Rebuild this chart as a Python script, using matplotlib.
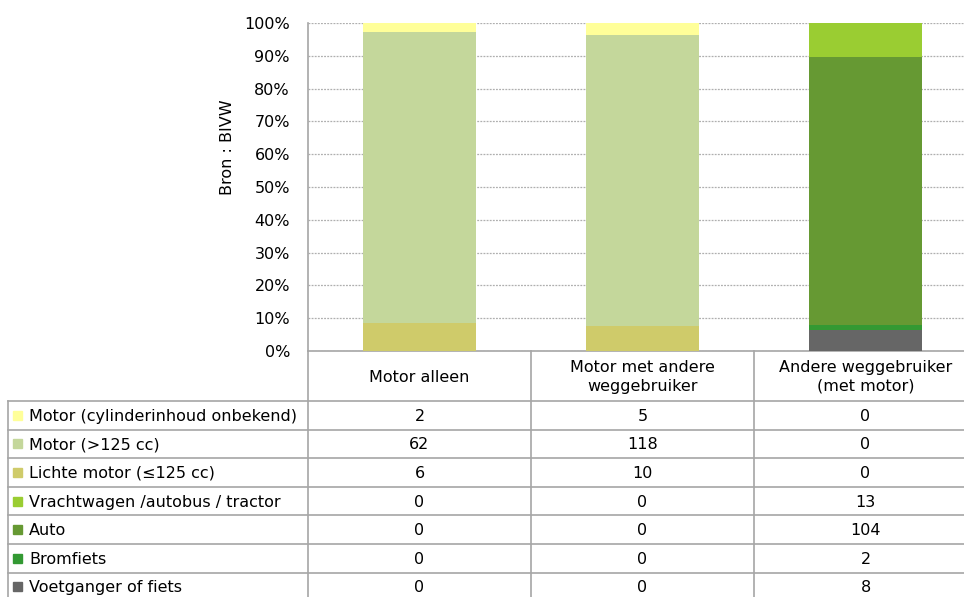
import matplotlib.pyplot as plt
from matplotlib.patches import Rectangle
import numpy as np

# Ongevallen per type, aantallen per kolom
categories = ['Motor alleen', 'Motor met andere\nweggebruiker', 'Andere weggebruiker\n(met motor)']
series_names = ['Motor (cylinderinhoud onbekend)', 'Motor (>125 cc)', 'Lichte motor (≤125 cc)',
                'Vrachtwagen /autobus / tractor', 'Auto', 'Bromfiets', 'Voetganger of fiets']
onbekend = [2, 5, 0]
motor_groot = [62, 118, 0]
lichte_motor = [6, 10, 0]
vrachtwagen = [0, 0, 13]
auto = [0, 0, 104]
bromfiets = [0, 0, 2]
voetganger = [0, 0, 8]
yticks = [0, 10, 20, 30, 40, 50, 60, 70, 80, 90, 100]

series = [onbekend, motor_groot, lichte_motor, vrachtwagen, auto, bromfiets, voetganger]
colors = ['#FFFF99', '#C4D79B', '#CFCB6A', '#9ACD32', '#669933', '#339933', '#666666']

plt.rcParams['font.family'] = ['DejaVu Sans']
fs = 11.5
line_col = '#A6A6A6'

W, H = 964, 597
fig = plt.figure(figsize=(W / 100, H / 100), dpi=100)

# pixel layout
x0, x_end = 308, 977
y_top, y_bot = 23, 351
col_w = (x_end - x0) / 3
ax = fig.add_axes([x0 / W, 1 - y_bot / H, (x_end - x0) / W, (y_bot - y_top) / H])

data = np.array(series, dtype=float)
totals = data.sum(axis=0)
pct = data / totals * 100

# stacked from bottom (last row in table) upward
x = np.arange(len(categories))
bottom = np.zeros(len(categories))
for i in range(len(series) - 1, -1, -1):
    ax.bar(x, pct[i], width=0.51, bottom=bottom, color=colors[i], zorder=3)
    bottom += pct[i]

ax.set_xlim(-0.5, 2.5)
ax.set_ylim(0, 100)
ax.set_yticks(yticks)
ax.set_yticklabels([f'{t}%' for t in yticks], fontsize=fs)
ax.tick_params(axis='y', length=0, pad=13)
ax.set_xticks([])
ax.yaxis.grid(True, linestyle=(0, (1.5, 1)), color='#AFAFAF', linewidth=0.9, zorder=0)
for s in ['top', 'right']:
    ax.spines[s].set_visible(False)
ax.spines['left'].set_color(line_col)
ax.spines['bottom'].set_color(line_col)
ax.spines['left'].set_linewidth(1.2)
ax.spines['bottom'].set_linewidth(1.2)

fig.text(228 / W, 1 - 147 / H, 'Bron : BIVW', rotation=90, ha='center', va='center', fontsize=fs)

# data table underneath
tab = fig.add_axes([0, 0, 1, 1], zorder=5)
tab.set_xlim(0, W)
tab.set_ylim(H, 0)
tab.axis('off')

row_top = 401
row_h = 28.6
n_rows = len(series)
table_bot = row_top + row_h * n_rows

for k in range(4):
    xv = x0 + k * col_w
    tab.plot([xv, xv], [y_bot, table_bot], color=line_col, lw=1.2, clip_on=False)
tab.plot([8, 8], [row_top, table_bot], color=line_col, lw=1.2)
for r in range(n_rows + 1):
    yy = row_top + r * row_h
    tab.plot([8, x_end], [yy, yy], color=line_col, lw=1.2)

for c, name in enumerate(categories):
    tab.text(x0 + (c + 0.5) * col_w, (y_bot + row_top) / 2 + 1, name, ha='center', va='center',
             fontsize=fs, linespacing=1.3)

for r, name in enumerate(series_names):
    yc = row_top + (r + 0.5) * row_h
    tab.add_patch(Rectangle((13, yc - 4.5), 9, 9, color=colors[r]))
    tab.text(29, yc + 1, name, ha='left', va='center', fontsize=fs)
    for c in range(len(categories)):
        tab.text(x0 + (c + 0.5) * col_w, yc + 1, str(series[r][c]), ha='center', va='center', fontsize=fs)

fig.savefig('out.png', dpi=100)
